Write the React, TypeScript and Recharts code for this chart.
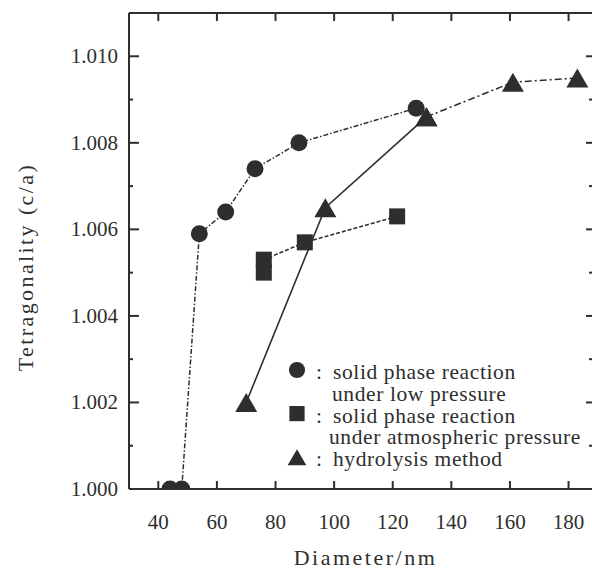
import { ReferenceLine, Scatter, ScatterChart, XAxis, YAxis } from "recharts";

const diameterLow = [44, 48, 54, 63, 73, 88, 128];
const tetraLow = [1.0, 1.0, 1.0059, 1.0064, 1.0074, 1.008, 1.0088];

const diameterAtm = [76, 76, 90, 121.5];
const tetraAtm = [1.005, 1.0053, 1.0057, 1.0063];

const diameterHyd = [70, 97, 131.5, 161, 183];
const tetraHyd = [1.002, 1.0065, 1.0086, 1.0094, 1.0095];

const xTicks = [40, 60, 80, 100, 120, 140, 160, 180];
const yTicks = [1.0, 1.001, 1.002, 1.003, 1.004, 1.005, 1.006, 1.007, 1.008, 1.009, 1.01];

const legendLines = [
  { kind: "circle", lines: ["solid phase reaction", "under low pressure"] },
  { kind: "square", lines: ["solid phase reaction", "under atmospheric pressure"] },
  { kind: "triangle", lines: ["hydrolysis method"] },
];

const W = 592;
const H = 569;
const MARGIN = { top: 13, right: 0, bottom: 0, left: 0 };
const PLOT_TOP = MARGIN.top;
const PLOT_RIGHT = W - MARGIN.right;
const X_DOMAIN = [30, 188];
const Y_DOMAIN = [1.0, 1.011];

const INK = "#2e2e2e";
const SERIF = { fontFamily: "Liberation Serif" };

const zip = (xs: number[], ys: number[]) => xs.map((x, i) => ({ x, y: ys[i] }));

const lowPoints = zip(diameterLow, tetraLow);
const atmPoints = zip(diameterAtm, tetraAtm);
const hydPoints = zip(diameterHyd, tetraHyd);

function drawMarker(kind: string, cx: number, cy: number, scale = 1) {
  if (kind === "circle") {
    return <circle cx={cx} cy={cy} r={8.5 * scale} fill={INK} />;
  }
  if (kind === "square") {
    const s = 16 * scale;
    return <rect x={cx - s / 2} y={cy - s / 2} width={s} height={s} fill={INK} />;
  }
  const w = 11 * scale;
  const h = 9.5 * scale;
  return (
    <polygon
      points={`${cx},${cy - h} ${cx - w},${cy + h} ${cx + w},${cy + h}`}
      fill={INK}
    />
  );
}

const shapeOf = (kind: string) => (props: any) => drawMarker(kind, props.cx, props.cy);

const isMajor = (v: number) => Math.round((v - 1) * 1000) % 2 === 0;

// left axis tick, mirrored inward tick on the right frame edge as well
function LeftTick(props: any) {
  const { x, y, payload } = props;
  const major = isMajor(payload.value);
  return (
    <g>
      <line x1={x} x2={x + (major ? 10 : 4)} y1={y} y2={y} stroke={INK} strokeWidth={2} />
      <line
        x1={PLOT_RIGHT}
        x2={PLOT_RIGHT - (major ? 6 : 3)}
        y1={y}
        y2={y}
        stroke={INK}
        strokeWidth={2}
      />
      {major && (
        <text x={x - 11} y={y + 7} textAnchor="end" fontSize={21} style={SERIF} fill={INK}>
          {payload.value.toFixed(3)}
        </text>
      )}
    </g>
  );
}

// bottom axis tick, mirrored inward tick on the top frame edge as well
function BottomTick(props: any) {
  const { x, y, payload } = props;
  return (
    <g>
      <line x1={x} x2={x} y1={y} y2={y - 8} stroke={INK} strokeWidth={2} />
      <line x1={x} x2={x} y1={PLOT_TOP} y2={PLOT_TOP + 8} stroke={INK} strokeWidth={2} />
      <text x={x} y={y + 40} textAnchor="middle" fontSize={21} style={SERIF} fill={INK}>
        {payload.value}
      </text>
    </g>
  );
}

function Legend() {
  let row = 0;
  return (
    <svg
      width={W}
      height={H}
      style={{ position: "absolute", left: 0, top: 0, pointerEvents: "none" }}
    >
      {legendLines.map((entry) => {
        const first = row;
        row += entry.lines.length;
        const baseY = 379 + first * 21.8;
        return (
          <g key={entry.kind}>
            {drawMarker(entry.kind, 297, baseY - 9, entry.kind === "triangle" ? 0.85 : 0.95)}
            <text x={316} y={baseY} fontSize={21.5} style={SERIF} fill={INK}>
              :
            </text>
            {entry.lines.map((t, i) => (
              <text
                key={t}
                x={i === 0 ? 333 : entry.kind === "square" ? 329 : 332}
                y={baseY + i * 21.8}
                fontSize={21.5}
                letterSpacing={0.6}
                style={SERIF}
                fill={INK}
              >
                {t}
              </text>
            ))}
          </g>
        );
      })}
    </svg>
  );
}

export default function App() {
  return (
    <div style={{ position: "absolute", left: 0, top: 0, width: W, height: H, background: "#fff" }}>
      <ScatterChart width={W} height={H} margin={MARGIN}>
        <XAxis
          type="number"
          dataKey="x"
          domain={X_DOMAIN}
          ticks={xTicks}
          interval={0}
          allowDataOverflow
          height={80}
          tickSize={0}
          tickMargin={0}
          tickLine={false}
          tick={<BottomTick />}
          axisLine={{ stroke: INK, strokeWidth: 2 }}
          label={(p: any) => (
            <text
              x={p.viewBox.x + p.viewBox.width / 2 + 5}
              y={565}
              textAnchor="middle"
              fontSize={22}
              letterSpacing={2.5}
              style={SERIF}
              fill={INK}
            >
              Diameter/nm
            </text>
          )}
        />
        <YAxis
          type="number"
          dataKey="y"
          domain={Y_DOMAIN}
          ticks={yTicks}
          interval={0}
          allowDataOverflow
          width={129}
          tickSize={0}
          tickMargin={0}
          tickLine={false}
          tick={<LeftTick />}
          axisLine={{ stroke: INK, strokeWidth: 2 }}
          label={(p: any) => (
            <text
              x={33}
              y={p.viewBox.y + p.viewBox.height / 2 + 16}
              transform={`rotate(-90, 33, ${p.viewBox.y + p.viewBox.height / 2 + 16})`}
              textAnchor="middle"
              fontSize={22}
              letterSpacing={2.4}
              style={SERIF}
              fill={INK}
            >
              Tetragonality (c/a)
            </text>
          )}
        />
        {/* top frame edge */}
        <ReferenceLine y={Y_DOMAIN[1]} stroke={INK} strokeWidth={2} />
        <Scatter
          data={lowPoints}
          isAnimationActive={false}
          line={{ stroke: INK, strokeWidth: 1.5, strokeDasharray: "5 2 1.5 2" }}
          lineType="joint"
          shape={shapeOf("circle")}
        />
        <Scatter
          data={atmPoints}
          isAnimationActive={false}
          line={{ stroke: INK, strokeWidth: 1.6, strokeDasharray: "4 2" }}
          lineType="joint"
          shape={shapeOf("square")}
        />
        <Scatter
          data={hydPoints.slice(0, 3)}
          isAnimationActive={false}
          line={{ stroke: INK, strokeWidth: 1.6 }}
          lineType="joint"
          shape={shapeOf("triangle")}
        />
        <Scatter
          data={hydPoints.slice(2)}
          isAnimationActive={false}
          line={{ stroke: INK, strokeWidth: 1.6, strokeDasharray: "7 3 2 3" }}
          lineType="joint"
          shape={shapeOf("triangle")}
        />
      </ScatterChart>
      <Legend />
    </div>
  );
}
